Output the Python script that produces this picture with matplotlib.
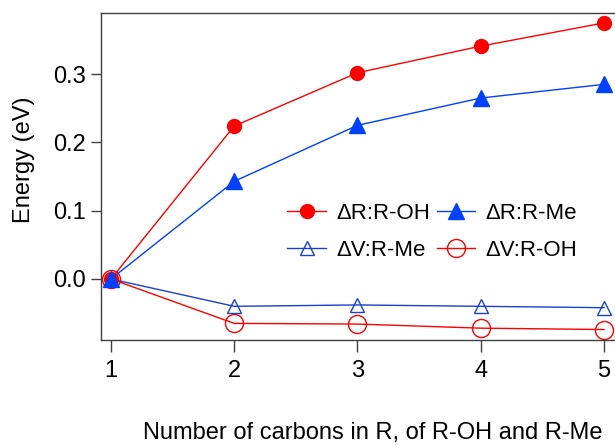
import matplotlib
matplotlib.use('Agg')
import matplotlib.pyplot as plt

# datos
carbonos = [1, 2, 3, 4, 5]
dr_oh = [0.0, 0.224, 0.302, 0.341, 0.375]
dr_me = [0.0, 0.143, 0.225, 0.265, 0.285]
dv_me = [0.0, -0.040, -0.038, -0.040, -0.042]
dv_oh = [0.0, -0.065, -0.066, -0.072, -0.074]

rojo = '#ff0000'
azul = '#0040ff'
azul_osc = '#1a40cc'

plt.rcParams['font.family'] = ['Liberation Sans', 'DejaVu Sans']

fig = plt.figure(figsize=(6.15, 4.45), dpi=100)
ax = fig.add_axes([0.1642, 0.236, 0.844, 0.7348])

# curvas con las marcas huecas primero (debajo)
l4, = ax.plot(carbonos, dv_oh, color=rojo, lw=1, marker='o', ms=13,
              mfc='none', mec=rojo, mew=1, label='ΔV:R-OH')
l3, = ax.plot(carbonos, dv_me, color=azul_osc, lw=1, marker='^', ms=9.5,
              mfc='none', mec=azul_osc, mew=1, label='ΔV:R-Me')
l1, = ax.plot(carbonos, dr_oh, color=rojo, lw=1, marker='o', ms=10,
              mfc=rojo, mec=rojo, label='ΔR:R-OH')
l2, = ax.plot(carbonos, dr_me, color=azul, lw=1, marker='^', ms=11,
              mfc=azul, mec=azul, label='ΔR:R-Me')

ax.set_xlim(0.919, 5.13)
ax.set_ylim(-0.0893, 0.3895)
ax.set_xticks([1, 2, 3, 4, 5])
ax.set_yticks([0.0, 0.1, 0.2, 0.3])
ax.set_yticklabels(['0.0', '0.1', '0.2', '0.3'])

for s in ['left', 'top', 'bottom']:
    ax.spines[s].set_color('#404040')
    ax.spines[s].set_linewidth(1)
ax.spines['right'].set_visible(False)
ax.tick_params(axis='both', direction='out', width=1,
               color='#404040', labelsize=17)
ax.tick_params(axis='x', length=8.5, pad=6)
ax.tick_params(axis='y', length=7, pad=4)

ax.set_ylabel('Energy (eV)', fontsize=17)
ax.yaxis.set_label_coords(-0.127, 0.55)
ax.set_xlabel('Number of carbons in R, of R-OH and R-Me', fontsize=17)
ax.xaxis.set_label_coords(0.524, -0.25)

ax.legend([l1, l3, l2, l4], ['ΔR:R-OH', 'ΔV:R-Me', 'ΔR:R-Me', 'ΔV:R-OH'],
          ncol=2, frameon=False, fontsize=16, loc='upper left',
          bbox_to_anchor=(0.32, 0.48), handlelength=1.75,
          columnspacing=0.3, handletextpad=0.45, labelspacing=0.7)

fig.savefig('out.png', dpi=100)
